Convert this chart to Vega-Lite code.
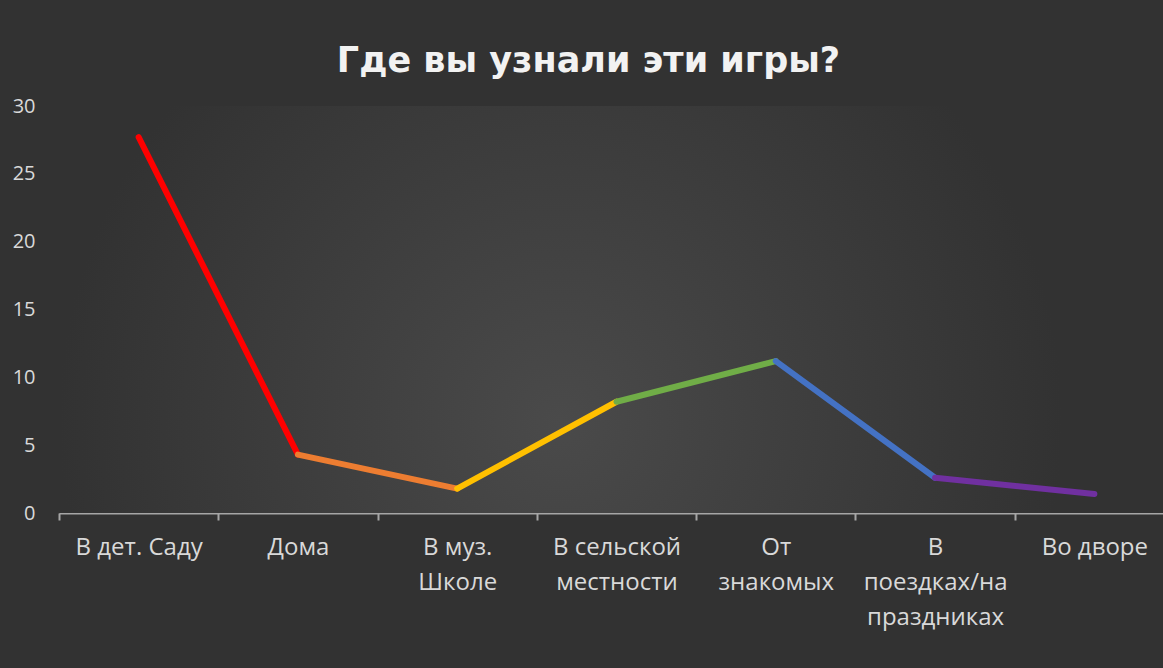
{
  "$schema": "https://vega.github.io/schema/vega-lite/v6.json",
  "width": 1115,
  "height": 407,
  "autosize": {"type": "none"},
  "padding": {"left": 59, "top": 106, "right": 0, "bottom": 155},
  "background": "#323232",
  "title": {
    "text": "Где вы узнали эти игры?",
    "font": "DejaVu Sans",
    "fontSize": 35,
    "fontWeight": "bold",
    "color": "#f2f2f2",
    "anchor": "middle",
    "dx": -28,
    "offset": 17
  },
  "datasets": {
    "points": [
      {"cat": "В дет. Саду", "value": 27.7, "next": "Дома", "next_value": 4.3, "seg": "1"},
      {"cat": "Дома", "value": 4.3, "next": "В муз. Школе", "next_value": 1.8, "seg": "2"},
      {"cat": "В муз. Школе", "value": 1.8, "next": "В сельской местности", "next_value": 8.2, "seg": "3"},
      {"cat": "В сельской местности", "value": 8.2, "next": "От знакомых", "next_value": 11.2, "seg": "4"},
      {"cat": "От знакомых", "value": 11.2, "next": "В поездках/на праздниках", "next_value": 2.6, "seg": "5"},
      {"cat": "В поездках/на праздниках", "value": 2.6, "next": "Во дворе", "next_value": 1.4, "seg": "6"},
      {"cat": "Во дворе", "value": 1.4, "next": null, "next_value": null, "seg": "7"}
    ]
  },
  "layer": [
    {
      "data": {"values": [{}]},
      "mark": {
        "type": "rect",
        "color": {
          "gradient": "radial",
          "x1": 0.45, "y1": 0.6, "r1": 0,
          "x2": 0.45, "y2": 0.6, "r2": 0.75,
          "stops": [
            {"offset": 0, "color": "#4a4a4a"},
            {"offset": 0.6, "color": "#323232"},
            {"offset": 1, "color": "#323232"}
          ]
        }
      }
    },
    {
      "data": {"name": "points"},
      "transform": [{"filter": "datum.next != null"}],
      "mark": {"type": "rule", "strokeWidth": 6, "strokeCap": "round"},
      "encoding": {
        "x": {
          "field": "cat",
          "type": "nominal",
          "scale": {
            "type": "band",
            "paddingInner": 0,
            "paddingOuter": 0,
            "domain": ["В дет. Саду", "Дома", "В муз. Школе", "В сельской местности", "От знакомых", "В поездках/на праздниках", "Во дворе"]
          },
          "axis": {
            "title": null,
            "labelAngle": 0,
            "tickBand": "extent",
            "domainColor": "#a6a6a6",
            "domainWidth": 2,
            "tickColor": "#a6a6a6",
            "tickWidth": 2,
            "tickSize": 7,
            "labelColor": "#d9d9d9",
            "labelFont": "Open Sans",
            "labelFontSize": 24,
            "labelPadding": 15,
            "labelLineHeight": 35,
            "labelBaseline": "top",
            "labelLimit": 0,
            "labelOverlap": false,
            "labelFlush": false,
            "grid": false,
            "labelExpr": "datum.label == 'В муз. Школе' ? ['В муз.', 'Школе'] : datum.label == 'В сельской местности' ? ['В сельской', 'местности'] : datum.label == 'От знакомых' ? ['От', 'знакомых'] : datum.label == 'В поездках/на праздниках' ? ['В', 'поездках/на', 'праздниках'] : datum.label"
          }
        },
        "x2": {"field": "next"},
        "y": {
          "field": "value",
          "type": "quantitative",
          "scale": {"domain": [0, 30], "nice": false},
          "axis": {
            "title": null,
            "values": [0, 5, 10, 15, 20, 25, 30],
            "domain": false,
            "ticks": false,
            "tickSize": 0,
            "gridColor": "#5a5a5a",
            "gridWidth": 1,
            "labelColor": "#d9d9d9",
            "labelFont": "Open Sans",
            "labelFontSize": 20,
            "labelPadding": 24
          }
        },
        "y2": {"field": "next_value"},
        "color": {
          "field": "seg",
          "type": "nominal",
          "scale": {
            "domain": ["1", "2", "3", "4", "5", "6"],
            "range": ["#ff0000", "#ed7d31", "#ffc000", "#70ad47", "#4472c4", "#7030a0"]
          },
          "legend": null
        }
      }
    }
  ],
  "config": {"view": {"stroke": null}}
}
